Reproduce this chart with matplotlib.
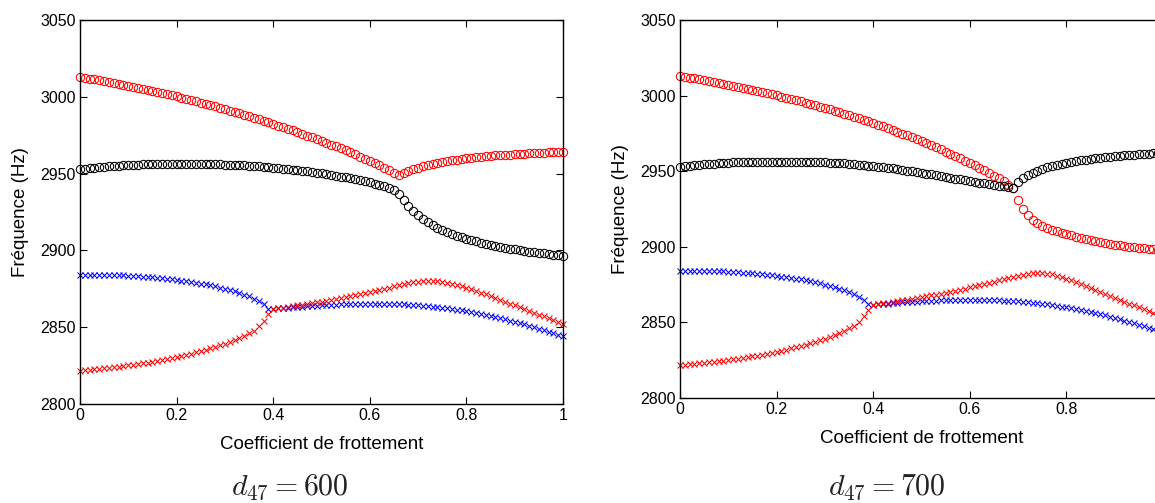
import numpy as np
import matplotlib
matplotlib.use("Agg")
import matplotlib.pyplot as plt

plt.rcParams['font.family'] = ['Liberation Sans', 'DejaVu Sans']
plt.rcParams['mathtext.fontset'] = 'cm'

mu = np.round(np.arange(101) * 0.01, 2)  # coefficient de frottement

# ---------- d47 = 600 ----------
L_red_o = [3013.0, 3012.5, 3011.9, 3011.4, 3010.8, 3010.2, 3009.6, 3009.0, 3008.4, 3007.8,
           3007.2, 3006.5, 3005.8, 3005.1, 3004.4, 3003.7, 3003.0, 3002.3, 3001.6, 3000.9,
           3000.2, 2999.4, 2998.6, 2997.8, 2997.0, 2996.2, 2995.4, 2994.5, 2993.7, 2992.8,
           2991.9, 2991.0, 2990.1, 2989.2, 2988.2, 2987.3, 2986.3, 2985.3, 2984.3, 2983.3,
           2982.3, 2981.3, 2980.2, 2979.2, 2978.1, 2977.0, 2975.9, 2974.8, 2973.6, 2972.5,
           2971.3, 2970.1, 2968.9, 2967.7, 2966.4, 2965.1, 2963.8, 2962.5, 2961.1, 2959.7,
           2958.3, 2956.8, 2955.3, 2953.8, 2952.2, 2950.6, 2948.8, 2950.2, 2951.6, 2952.8,
           2953.9, 2954.8, 2955.6, 2956.3, 2957.0, 2957.6, 2958.1, 2958.6, 2959.1, 2959.5,
           2959.9, 2960.3, 2960.6, 2960.9, 2961.2, 2961.5, 2961.8, 2962.0, 2962.2, 2962.4,
           2962.6, 2962.8, 2963.0, 2963.2, 2963.4, 2963.5, 2963.7, 2963.8, 2964.0, 2964.1, 2964.2]
L_blk_o = [2952.8, 2953.2, 2953.6, 2953.9, 2954.2, 2954.5, 2954.8, 2955.0, 2955.2, 2955.4,
           2955.6, 2955.8, 2955.9, 2956.0, 2956.1, 2956.2, 2956.3, 2956.3, 2956.4, 2956.4,
           2956.4, 2956.4, 2956.4, 2956.4, 2956.4, 2956.3, 2956.3, 2956.2, 2956.1, 2956.0,
           2955.9, 2955.8, 2955.6, 2955.5, 2955.3, 2955.1, 2954.9, 2954.7, 2954.4, 2954.2,
           2953.9, 2953.6, 2953.3, 2953.0, 2952.6, 2952.3, 2951.9, 2951.5, 2951.1, 2950.7,
           2950.2, 2949.7, 2949.2, 2948.7, 2948.1, 2947.6, 2947.0, 2946.4, 2945.7, 2945.0,
           2944.3, 2943.5, 2942.7, 2941.8, 2940.8, 2939.4, 2936.5, 2932.5, 2928.8, 2925.6,
           2922.9, 2920.4, 2918.2, 2916.3, 2914.6, 2913.1, 2911.7, 2910.5, 2909.4, 2908.4,
           2907.5, 2906.7, 2905.9, 2905.1, 2904.4, 2903.7, 2903.0, 2902.4, 2901.8, 2901.2,
           2900.7, 2900.2, 2899.7, 2899.2, 2898.8, 2898.4, 2898.0, 2897.6, 2897.2, 2896.9, 2896.6]
L_blu_x = [2884.3, 2884.3, 2884.3, 2884.2, 2884.2, 2884.1, 2884.0, 2883.9, 2883.8, 2883.7,
           2883.5, 2883.3, 2883.1, 2882.9, 2882.7, 2882.4, 2882.1, 2881.8, 2881.5, 2881.1,
           2880.7, 2880.3, 2879.9, 2879.4, 2878.9, 2878.4, 2877.8, 2877.2, 2876.5, 2875.8,
           2875.0, 2874.2, 2873.3, 2872.3, 2871.2, 2870.0, 2868.6, 2867.0, 2865.0, 2862.0,
           2862.0, 2862.2, 2862.5, 2862.7, 2863.0, 2863.2, 2863.4, 2863.6, 2863.8, 2864.0,
           2864.2, 2864.4, 2864.5, 2864.7, 2864.8, 2864.9, 2865.0, 2865.1, 2865.1, 2865.2,
           2865.2, 2865.2, 2865.2, 2865.2, 2865.1, 2865.0, 2864.9, 2864.8, 2864.6, 2864.4,
           2864.2, 2864.0, 2863.7, 2863.4, 2863.1, 2862.7, 2862.3, 2861.9, 2861.4, 2860.9,
           2860.4, 2859.8, 2859.2, 2858.6, 2858.0, 2857.3, 2856.6, 2855.9, 2855.1, 2854.3,
           2853.5, 2852.7, 2851.8, 2850.9, 2850.0, 2849.1, 2848.1, 2847.1, 2846.1, 2845.1, 2844.0]
L_red_x = [2821.8, 2822.0, 2822.3, 2822.6, 2822.9, 2823.2, 2823.5, 2823.9, 2824.3, 2824.7,
           2825.1, 2825.5, 2826.0, 2826.5, 2827.0, 2827.5, 2828.1, 2828.7, 2829.3, 2829.9,
           2830.6, 2831.3, 2832.0, 2832.8, 2833.6, 2834.4, 2835.3, 2836.2, 2837.2, 2838.2,
           2839.3, 2840.5, 2841.7, 2843.0, 2844.5, 2846.1, 2847.8, 2850.5, 2854.0, 2858.5,
           2861.8, 2862.3, 2862.8, 2863.2, 2863.7, 2864.2, 2864.7, 2865.2, 2865.7, 2866.2,
           2866.7, 2867.2, 2867.8, 2868.4, 2869.0, 2869.6, 2870.2, 2870.9, 2871.5, 2872.2,
           2872.9, 2873.6, 2874.3, 2875.0, 2875.8, 2876.5, 2877.2, 2877.9, 2878.6, 2879.2,
           2879.7, 2880.1, 2880.3, 2880.3, 2880.1, 2879.7, 2879.1, 2878.4, 2877.6, 2876.7,
           2875.7, 2874.7, 2873.6, 2872.5, 2871.4, 2870.2, 2869.0, 2867.8, 2866.6, 2865.4,
           2864.2, 2863.0, 2861.8, 2860.6, 2859.4, 2858.2, 2857.0, 2855.8, 2854.6, 2853.4, 2852.2]

# ---------- d47 = 700 ----------
R_red_o = [3013.0, 3012.5, 3011.9, 3011.4, 3010.8, 3010.2, 3009.6, 3009.0, 3008.4, 3007.8,
           3007.2, 3006.5, 3005.8, 3005.1, 3004.4, 3003.7, 3003.0, 3002.3, 3001.6, 3000.9,
           3000.2, 2999.4, 2998.6, 2997.8, 2997.0, 2996.2, 2995.4, 2994.5, 2993.6, 2992.7,
           2991.8, 2990.9, 2990.0, 2989.0, 2988.0, 2987.0, 2986.0, 2985.0, 2984.0, 2982.9,
           2981.8, 2980.7, 2979.6, 2978.5, 2977.3, 2976.1, 2974.9, 2973.7, 2972.4, 2971.1,
           2969.8, 2968.5, 2967.2, 2965.8, 2964.4, 2963.0, 2961.5, 2960.0, 2958.5, 2957.0,
           2955.4, 2953.8, 2952.2, 2950.5, 2948.8, 2947.0, 2945.2, 2943.3, 2941.2, 2938.6,
           2931.0, 2925.2, 2921.0, 2918.0, 2915.8, 2914.0, 2912.5, 2911.2, 2910.2, 2909.3,
           2908.5, 2907.5, 2906.6, 2905.8, 2905.0, 2904.3, 2903.6, 2903.0, 2902.4, 2901.9,
           2901.4, 2900.9, 2900.5, 2900.1, 2899.7, 2899.3, 2899.0, 2898.7, 2898.4, 2898.1, 2897.8]
R_blk_o = [2952.8, 2953.2, 2953.6, 2953.9, 2954.2, 2954.5, 2954.8, 2955.0, 2955.2, 2955.4,
           2955.6, 2955.8, 2955.9, 2956.0, 2956.1, 2956.2, 2956.3, 2956.3, 2956.4, 2956.4,
           2956.4, 2956.4, 2956.4, 2956.4, 2956.4, 2956.3, 2956.3, 2956.2, 2956.1, 2956.0,
           2955.9, 2955.7, 2955.5, 2955.3, 2955.1, 2954.9, 2954.6, 2954.3, 2954.0, 2953.7,
           2953.4, 2953.0, 2952.6, 2952.2, 2951.8, 2951.4, 2950.9, 2950.4, 2949.9, 2949.4,
           2948.9, 2948.4, 2947.9, 2947.3, 2946.8, 2946.2, 2945.7, 2945.1, 2944.6, 2944.0,
           2943.5, 2943.0, 2942.5, 2942.0, 2941.5, 2941.0, 2940.5, 2940.0, 2939.5, 2939.2,
           2942.6, 2945.4, 2947.4, 2949.0, 2950.4, 2951.6, 2952.6, 2953.5, 2954.3, 2955.0,
           2955.6, 2956.2, 2956.7, 2957.2, 2957.7, 2958.1, 2958.5, 2958.9, 2959.3, 2959.6,
           2959.9, 2960.2, 2960.5, 2960.8, 2961.0, 2961.2, 2961.4, 2961.6, 2961.8, 2962.0, 2962.2]
R_blu_x = [2884.3, 2884.3, 2884.3, 2884.2, 2884.2, 2884.1, 2884.0, 2883.9, 2883.8, 2883.7,
           2883.5, 2883.3, 2883.1, 2882.9, 2882.7, 2882.4, 2882.1, 2881.8, 2881.5, 2881.1,
           2880.7, 2880.3, 2879.9, 2879.4, 2878.9, 2878.4, 2877.8, 2877.2, 2876.5, 2875.8,
           2875.0, 2874.2, 2873.3, 2872.3, 2871.2, 2870.0, 2868.6, 2867.0, 2865.0, 2862.0,
           2861.8, 2862.0, 2862.3, 2862.5, 2862.8, 2863.0, 2863.2, 2863.4, 2863.6, 2863.8,
           2864.0, 2864.1, 2864.3, 2864.4, 2864.5, 2864.6, 2864.7, 2864.8, 2864.8, 2864.9,
           2864.9, 2864.9, 2864.9, 2864.8, 2864.8, 2864.7, 2864.6, 2864.4, 2864.3, 2864.1,
           2863.9, 2863.6, 2863.3, 2863.0, 2862.7, 2862.3, 2861.9, 2861.5, 2861.0, 2860.5,
           2860.0, 2859.4, 2858.8, 2858.2, 2857.5, 2856.8, 2856.1, 2855.4, 2854.6, 2853.8,
           2853.0, 2852.1, 2851.2, 2850.3, 2849.4, 2848.4, 2847.4, 2846.4, 2845.4, 2844.4, 2843.3]
R_red_x = [2821.8, 2822.0, 2822.3, 2822.6, 2822.9, 2823.2, 2823.5, 2823.9, 2824.3, 2824.7,
           2825.1, 2825.5, 2826.0, 2826.5, 2827.0, 2827.5, 2828.1, 2828.7, 2829.3, 2829.9,
           2830.6, 2831.3, 2832.0, 2832.8, 2833.6, 2834.4, 2835.3, 2836.2, 2837.2, 2838.2,
           2839.3, 2840.5, 2841.7, 2843.0, 2844.5, 2846.1, 2847.8, 2850.5, 2854.0, 2858.5,
           2861.6, 2862.1, 2862.6, 2863.1, 2863.6, 2864.1, 2864.6, 2865.1, 2865.6, 2866.1,
           2866.6, 2867.2, 2867.8, 2868.4, 2869.0, 2869.6, 2870.3, 2871.0, 2871.7, 2872.4,
           2873.1, 2873.8, 2874.6, 2875.4, 2876.2, 2877.0, 2877.8, 2878.6, 2879.4, 2880.2,
           2880.9, 2881.6, 2882.2, 2882.6, 2882.8, 2882.7, 2882.3, 2881.7, 2880.9, 2880.0,
           2879.0, 2877.9, 2876.7, 2875.5, 2874.2, 2872.9, 2871.6, 2870.3, 2869.0, 2867.7,
           2866.4, 2865.1, 2863.8, 2862.5, 2861.2, 2859.9, 2858.6, 2857.3, 2856.0, 2854.7, 2853.4]

subtitles = [r'$d_{47} = 600$', r'$d_{47} = 700$']
xticks = [0, 0.2, 0.4, 0.6, 0.8, 1]
xticklabels = ['0', '0.2', '0.4', '0.6', '0.8', '1']
yticks = [2800, 2850, 2900, 2950, 3000, 3050]

W, H = 1155, 503
fig = plt.figure(figsize=(W / 100, H / 100), dpi=100)

panels = [
    dict(rect=[80 / W, 1 - 404 / H, 483 / W, 384 / H], data=(L_red_o, L_blk_o, L_blu_x, L_red_x),
         sub_x=290),
    dict(rect=[680 / W, 1 - 398 / H, 483 / W, 378 / H], data=(R_red_o, R_blk_o, R_blu_x, R_red_x),
         sub_x=887),
]

for p, sub in zip(panels, subtitles):
    ax = fig.add_axes(p['rect'])
    red_o, blk_o, blu_x, red_x = p['data']
    kw_o = dict(linestyle='none', marker='o', markersize=6.0, markerfacecolor='none',
                markeredgewidth=0.75, clip_on=False)
    kw_x = dict(linestyle='none', marker='x', markersize=4.6, markeredgewidth=0.75, clip_on=False)
    ax.plot(mu, red_o, color='#ff0000', **kw_o)
    ax.plot(mu, blk_o, color='#000000', **kw_o)
    ax.plot(mu, blu_x, color='#0000ff', **kw_x)
    ax.plot(mu, red_x, color='#ff0000', **kw_x)
    ax.set_xlim(0, 1)
    ax.set_ylim(2800, 3050)
    ax.set_xticks(xticks)
    ax.set_xticklabels(xticklabels)
    ax.set_yticks(yticks)
    ax.tick_params(direction='in', top=True, right=True, length=5, width=0.8,
                   labelsize=11.5, pad=3)
    for s in ax.spines.values():
        s.set_linewidth(1.0)
    ax.set_xlabel('Coefficient de frottement', fontsize=13.5, labelpad=9)
    ax.set_ylabel('Fréquence (Hz)', fontsize=13.5, labelpad=8)
    fig.text(p['sub_x'] / W, 1 - 487 / H, sub, ha='center', va='center', fontsize=21.5,
             color='#222222')

fig.savefig('out.png', dpi=100)
